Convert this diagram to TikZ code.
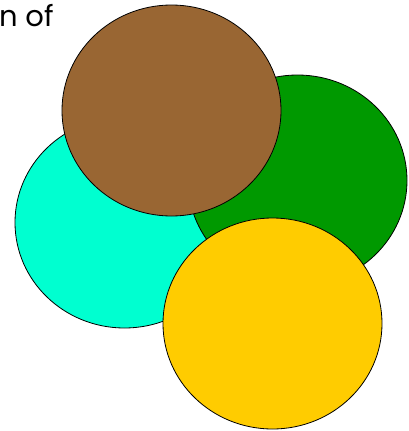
\documentclass[tikz,border=0pt]{standalone}
\usepackage{fontspec}
\newfontfamily\titlefont{Poppins}
\definecolor{cyanc}{RGB}{0,255,208}
\definecolor{greenc}{RGB}{0,153,0}
\definecolor{brownc}{RGB}{153,102,51}
\definecolor{yellowc}{RGB}{255,204,0}
\tikzset{disc/.style={draw=black,line width=0.8pt}}
\begin{document}
\begin{tikzpicture}[x=1pt,y=-1pt]
\useasboundingbox (0,0) rectangle (408,431);
\begin{scope}
\clip (0,0) rectangle (408,431);
\node[anchor=base west,inner sep=0pt,font=\titlefont\fontsize{29}{34}\selectfont] (title) at (-1,27) {n of};
\fill[disc,fill=cyanc] (124.5,222.5) ellipse[x radius=109.5,y radius=105.5];
\fill[disc,fill=greenc] (297.5,180.5) ellipse[x radius=109.5,y radius=105.5];
\fill[disc,fill=brownc] (171.5,110.5) ellipse[x radius=109.5,y radius=105.5];
\fill[disc,fill=yellowc] (272.5,323.5) ellipse[x radius=109.5,y radius=105.5];
\end{scope}
\end{tikzpicture}
\end{document}
